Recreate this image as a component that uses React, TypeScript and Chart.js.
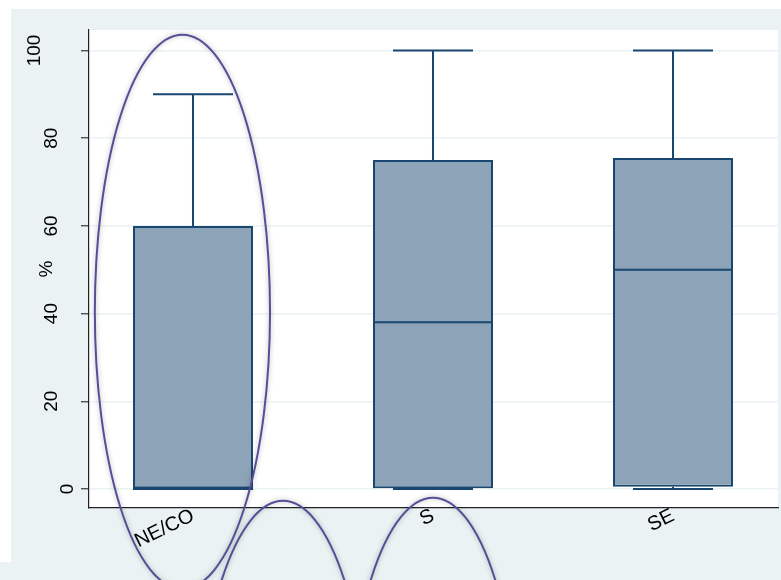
import React, { useEffect, useRef } from "react";
import { Chart, registerables } from "chart.js";

Chart.register(...registerables);

const categories = ["NE/CO", "S", "SE"];
const whiskerLow = [0, 0, 0];
const q1 = [0, 0, 0.5];
const median = [0, 38, 50];
const q3 = [60, 75, 75.5];
const whiskerHigh = [90, 100, 100];
const yTicks = [0, 20, 40, 60, 80, 100];
const yTitle = "%";

// hand-drawn ellipse annotations (in data units)
const ellipseCenterX = [-0.044, 0.375, 1.0];
const ellipseCenterY = [40.4, -65.9, -65.2];
const ellipseRadiusX = 0.365;
const ellipseRadiusY = 63.2;

const FONT = "'Liberation Sans', Arial, sans-serif";
const NAVY = "rgb(26,71,111)";
const BOXFILL = "rgb(141,163,183)";
const BG = "rgb(234,242,243)";

const bgPlugin = {
  id: "bgPlugin",
  beforeDraw(chart: any) {
    const { ctx, width, height, chartArea } = chart;
    ctx.save();
    ctx.fillStyle = "#ffffff";
    ctx.fillRect(0, 0, width, height);
    ctx.fillStyle = BG;
    ctx.fillRect(11, 9, width - 11, height - 9);
    ctx.fillRect(0, 562, width, height - 562);
    ctx.fillStyle = "#ffffff";
    ctx.fillRect(chartArea.left, chartArea.top, chartArea.right - chartArea.left, chartArea.bottom - chartArea.top);
    ctx.restore();
  },
};

const boxPlugin = {
  id: "boxPlugin",
  afterDatasetsDraw(chart: any) {
    const { ctx } = chart;
    const xs = chart.scales.x;
    const ys = chart.scales.y;
    const meta = chart.getDatasetMeta(0);
    ctx.save();
    ctx.strokeStyle = NAVY;
    ctx.lineWidth = 2;
    categories.forEach((_, i) => {
      const x = xs.getPixelForValue(i);
      const bw = meta.data[i].width;
      const cap = bw / 3;
      const yHi = ys.getPixelForValue(whiskerHigh[i]);
      const yQ3 = ys.getPixelForValue(q3[i]);
      const yQ1 = ys.getPixelForValue(q1[i]);
      const yLo = ys.getPixelForValue(whiskerLow[i]);
      const yMed = ys.getPixelForValue(median[i]);
      ctx.beginPath();
      ctx.moveTo(x, yQ3);
      ctx.lineTo(x, yHi);
      ctx.moveTo(x - cap, yHi);
      ctx.lineTo(x + cap, yHi);
      ctx.moveTo(x, yQ1);
      ctx.lineTo(x, yLo);
      ctx.moveTo(x - cap, yLo);
      ctx.lineTo(x + cap, yLo);
      ctx.moveTo(x - bw / 2, yMed);
      ctx.lineTo(x + bw / 2, yMed);
      ctx.stroke();
    });
    ctx.restore();
  },
};

const labelPlugin = {
  id: "labelPlugin",
  afterDraw(chart: any) {
    const { ctx, chartArea } = chart;
    const xs = chart.scales.x;
    const ys = chart.scales.y;
    ctx.save();
    ctx.fillStyle = "#000";
    ctx.font = `19px ${FONT}`;
    ctx.textAlign = "center";
    ctx.textBaseline = "alphabetic";
    yTicks.forEach((v) => {
      const label = String(v);
      const w = ctx.measureText(label).width;
      const y = ys.getPixelForValue(v);
      const xb = chartArea.left + 0.5 - 1.56 * w;
      ctx.save();
      ctx.translate(xb, y);
      ctx.rotate(-Math.PI / 2);
      ctx.fillText(label, 0, 0);
      ctx.restore();
    });
    ctx.save();
    ctx.translate(52, (chartArea.top + chartArea.bottom) / 2);
    ctx.rotate(-Math.PI / 2);
    ctx.fillText(yTitle, 0, 0);
    ctx.restore();

    // ellipse annotations
    ctx.strokeStyle = "rgb(84,80,152)";
    ctx.lineWidth = 2;
    ctx.shadowColor = "rgba(0,0,0,0.3)";
    ctx.shadowBlur = 5;
    ellipseCenterX.forEach((cxv, i) => {
      const cx = xs.getPixelForValue(cxv);
      const cy = ys.getPixelForValue(ellipseCenterY[i]);
      const rx = Math.abs(xs.getPixelForValue(cxv + ellipseRadiusX) - cx);
      const ry = Math.abs(ys.getPixelForValue(ellipseCenterY[i] + ellipseRadiusY) - cy);
      ctx.beginPath();
      ctx.ellipse(cx, cy, rx, ry, 0, 0, Math.PI * 2);
      ctx.stroke();
    });
    ctx.restore();
  },
};

export default function App() {
  const ref = useRef<HTMLCanvasElement | null>(null);
  useEffect(() => {
    if (!ref.current) return;
    const chart = new Chart(ref.current, {
      type: "bar",
      data: {
        datasets: [
          {
            data: categories.map((_, i) => ({ x: i, y: [q1[i], q3[i]] })) as any,
            backgroundColor: BOXFILL,
            borderColor: NAVY,
            borderWidth: 2,
            borderSkipped: false,
            categoryPercentage: 1,
            barPercentage: 0.5,
          },
        ],
      },
      options: {
        animation: false,
        responsive: false,
        layout: { padding: { top: 30, right: 3, left: 0, bottom: 0 } },
        plugins: { legend: { display: false }, tooltip: { enabled: false } },
        scales: {
          x: {
            type: "linear",
            offset: false,
            min: -0.4333,
            max: 2.4375,
            afterBuildTicks: (s: any) => {
              s.ticks = categories.map((_, i) => ({ value: i }));
            },
            afterFit: (s: any) => {
              s.height = 72;
            },
            grid: { display: false, drawTicks: false, offset: false },
            border: { display: true, color: "#222", width: 1.2 },
            ticks: {
              minRotation: 26,
              maxRotation: 26,
              padding: -4,
              autoSkip: false,
              color: "#000",
              font: { family: FONT, size: 20 },
              callback: (v: any) => categories[v] ?? "",
            },
          },
          y: {
            type: "linear",
            min: -4.33,
            max: 104.67,
            afterBuildTicks: (s: any) => {
              s.ticks = yTicks.map((v) => ({ value: v }));
            },
            afterFit: (s: any) => {
              s.width = 89;
            },
            grid: {
              color: BG,
              lineWidth: 1.5,
              drawTicks: true,
              tickLength: 8,
              tickColor: "#333",
              tickWidth: 1.2,
            },
            border: { display: true, color: "#222", width: 1.2 },
            ticks: { display: false },
          },
        },
      },
      plugins: [bgPlugin, boxPlugin, labelPlugin],
    });
    return () => chart.destroy();
  }, []);
  return (
    <div style={{ position: "fixed", left: 0, top: 0, width: 781, height: 580 }}>
      <canvas ref={ref} width={781} height={580} style={{ display: "block" }} />
    </div>
  );
}
